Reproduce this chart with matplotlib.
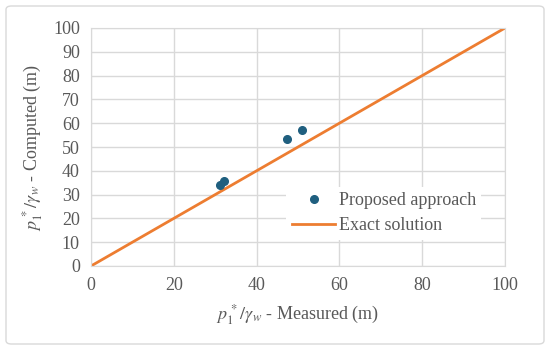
import matplotlib.pyplot as plt
from matplotlib.patches import FancyBboxPatch

# data
measured = [31.2, 32.2, 47.4, 51.0]
computed = [34.0, 35.8, 53.4, 57.1]
exact_x = [0, 100]
exact_y = [0, 100]

plt.rcParams['font.family'] = ['Liberation Serif', 'DejaVu Serif']
plt.rcParams['mathtext.fontset'] = 'stix'
grey = '#595959'

fig = plt.figure(figsize=(5.5, 3.49), dpi=100)
ax = fig.add_axes([91 / 550, 83 / 349, 414 / 550, 238 / 349])

# outer frame of the figure
fig.patches.append(FancyBboxPatch((6 / 550, 5 / 349), 538 / 550, 338 / 349,
                                  boxstyle='round,pad=0,rounding_size=0.01',
                                  transform=fig.transFigure, fill=False,
                                  edgecolor='#d9d9d9', linewidth=1))

ax.plot(measured, computed, 'o', color='#1f5f7f', markersize=5.5,
        label='Proposed approach', zorder=3)
ax.plot(exact_x, exact_y, color='#ed7d31', linewidth=2,
        label='Exact solution', zorder=2)

ax.set_xlim(0, 100)
ax.set_ylim(0, 100)
ax.set_xticks(range(0, 101, 20))
ax.set_yticks(range(0, 101, 10))
ax.grid(True, color='#d9d9d9', linewidth=1)
ax.set_axisbelow(True)
for s in ax.spines.values():
    s.set_color('#d9d9d9')
ax.tick_params(length=0, labelsize=13, labelcolor=grey, pad=8)

ax.set_xlabel(r'$p_1^{\,*}/\gamma_w$ - Measured (m)', fontsize=13, color=grey, labelpad=6)
ax.set_ylabel(r'$p_1^{\,*}/\gamma_w$ - Computed (m)', fontsize=13, color=grey, labelpad=6)

leg = ax.legend(loc='lower right', bbox_to_anchor=(0.965, 0.072), frameon=True,
                fontsize=13, handlelength=2.4, handletextpad=0.2,
                borderpad=0.3, labelspacing=0.45)
leg.get_frame().set_edgecolor('none')
leg.get_frame().set_facecolor('white')
leg.get_frame().set_alpha(1)
for t in leg.get_texts():
    t.set_color(grey)

fig.savefig('out.png', dpi=100)
